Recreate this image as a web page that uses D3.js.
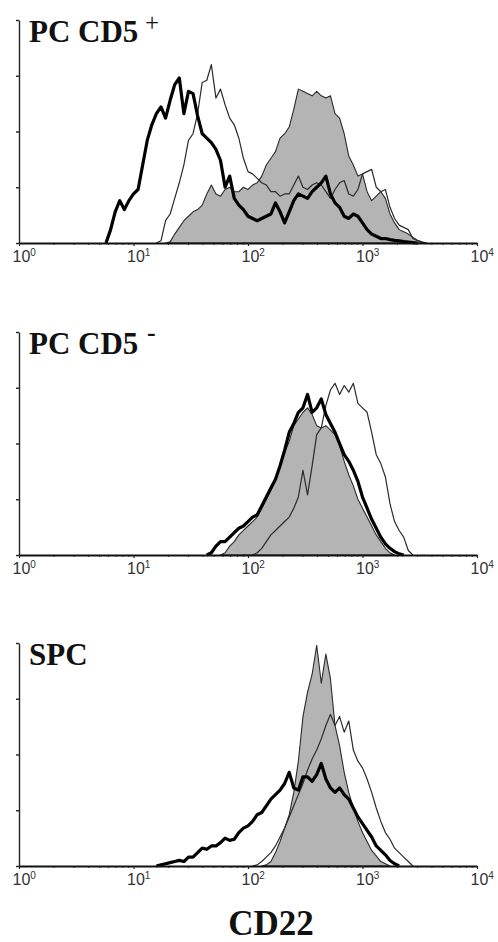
<!DOCTYPE html>
<html>
<head>
<meta charset="utf-8">
<script src="https://cdn.jsdelivr.net/npm/d3@7"></script>
<style>
  body { margin: 0; background: #fff; }
  svg { display: block; }
</style>
</head>
<body>
<svg id="chart" width="498" height="942"></svg>
<script>
// histogram bins are 0.04 decades wide, each series starts at log10 value *Start
const bin = 0.04;

const titles = ["PC CD5", "PC CD5", "SPC"];
const titleSups = ["+", "-", ""];
const xTicks = [1, 10, 100, 1000, 10000];
const yTicks = [0, 25, 50, 75, 100];

// PC CD5+
const p1GrayStart = 1.28;
const p1Gray = [0, 0.5, 4, 7, 10, 12, 14, 15, 17, 22, 26, 22, 21, 24, 25, 23, 23, 25, 24, 26,
  27, 30, 35, 38, 41, 47, 49, 52, 60, 69, 68, 67, 66, 68, 66, 65, 66, 58, 56, 49,
  39, 35, 30, 31, 23, 19, 21, 23, 20, 13, 9, 6, 5, 4, 2.5, 1.2, 0.5, 0];
const p1ThinStart = 1.20;
const p1Thin = [0, 1, 10, 13, 20, 27, 35, 46, 49, 58, 72, 73, 80, 65, 69, 62, 56, 53, 47, 38,
  32, 31, 29, 27, 26, 23, 23, 21, 22, 22, 26, 30, 25, 24, 26, 27, 26, 23, 20, 24,
  27, 28, 22, 21, 24, 31, 32, 33, 25, 23, 24, 16, 11, 8, 7, 6, 2, 1, 0.3, 0];
const p1ThickStart = 0.76;
const p1Thick = [0, 6, 14, 19, 15, 19, 22, 24, 35, 46, 53, 58, 61, 56, 64, 71, 74, 58, 68, 67,
  57, 49, 47, 45, 42, 37, 25, 30, 20, 17, 15, 12, 11, 10, 11, 12, 13, 18, 14, 9,
  14, 19, 22, 21, 20, 23, 25, 27, 30, 22, 18, 16, 12, 11, 13, 12, 9, 6, 4, 3,
  2, 2, 1.5, 1.2, 1, 0.6, 0.4, 0.2, 0];

// PC CD5-
const p2GrayStart = 1.76;
const p2Gray = [0, 1, 4, 6, 9, 11, 13, 15, 17, 21, 25, 29, 34, 40, 46, 51, 58, 61, 64, 66,
  63, 58, 57, 58, 56, 54, 49, 42, 36, 31, 25, 21, 17, 13, 9, 6, 3, 1, 0];
const p2ThinStart = 2.04;
const p2Thin = [0, 1, 3, 6, 9, 11, 13, 15, 17, 21, 26, 38, 27, 40, 54, 57, 67, 74, 77, 72,
  76, 73, 77, 68, 66, 64, 55, 45, 41, 35, 23, 15, 11, 8, 2, 0];
const p2ThickStart = 1.64;
const p2Thick = [0, 1, 4, 6, 6, 8, 10, 12, 13, 15, 17, 18, 22, 26, 30, 34, 40, 47, 55, 59,
  64, 66, 72, 64, 66, 70, 63, 59, 55, 50, 45, 42, 38, 33, 26, 21, 16, 12, 8, 5,
  3, 1.5, 0.5, 0];

// SPC
const p3GrayStart = 2.12;
const p3Gray = [0, 0.5, 2, 6, 11, 17, 23, 33, 47, 67, 78, 86, 99, 82, 95, 84, 63, 54, 42, 33,
  26, 20, 15, 11, 7, 4.5, 2, 1, 0];
const p3ThinStart = 2.04;
const p3Thin = [0, 0.5, 2, 4, 6, 9, 13, 17, 22, 27, 32, 37, 43, 48, 52, 57, 63, 68, 63, 67,
  60, 65, 52, 47, 44, 39, 33, 26, 20, 15, 12, 8, 6, 4, 2, 0];
const p3ThickStart = 1.20;
const p3Thick = [0, 0.5, 1, 1.5, 2, 2.5, 2, 4, 4, 6, 8, 7.5, 9, 9, 10.5, 12.5, 11.5, 12, 15, 17,
  18, 20, 23, 24, 27, 30, 32, 34, 37, 42, 35, 34, 40, 40, 38, 41, 46, 39, 35, 33,
  35, 32, 30, 26, 22, 19, 16, 13, 9, 7, 5, 2.5, 1, 0];

const panels = [
  { gray: [p1GrayStart, p1Gray], thin: [p1ThinStart, p1Thin], thick: [p1ThickStart, p1Thick] },
  { gray: [p2GrayStart, p2Gray], thin: [p2ThinStart, p2Thin], thick: [p2ThickStart, p2Thick] },
  { gray: [p3GrayStart, p3Gray], thin: [p3ThinStart, p3Thin], thick: [p3ThickStart, p3Thick] },
];

const svg = d3.select("#chart");
const margin = { left: 19, right: 21 };
const width = 498;
const panelTops = [20, 332, 643];
const panelHeight = 223;

const x = d3.scaleLog().domain([1, 10000]).range([margin.left, width - margin.right]);
const y = d3.scaleLinear().domain([0, 100]).range([panelHeight, 0]);

const toPoints = ([start, values]) => values.map((v, i) => [10 ** (start + i * bin), v]);

const line = d3.line().x((d) => x(d[0])).y((d) => y(d[1]));
const area = d3.area().x((d) => x(d[0])).y0(y(0)).y1((d) => y(d[1]));

const minorTicks = [];
[1, 10, 100, 1000].forEach((dec) => {
  for (let k = 2; k <= 9; k++) minorTicks.push(dec * k);
});

const addPanel = (i) => {
  const g = svg.append("g").attr("transform", `translate(0,${panelTops[i]})`);
  const p = panels[i];

  g.append("path")
    .datum(toPoints(p.gray))
    .attr("d", area)
    .attr("fill", "#b4b4b4")
    .attr("stroke", "#2a2a2a")
    .attr("stroke-width", 1.1)
    .attr("stroke-linejoin", "round");

  g.append("path")
    .datum(toPoints(p.thin))
    .attr("d", line)
    .attr("fill", "none")
    .attr("stroke", "#2a2a2a")
    .attr("stroke-width", 1.2)
    .attr("stroke-linejoin", "round");

  g.append("path")
    .datum(toPoints(p.thick))
    .attr("d", line)
    .attr("fill", "none")
    .attr("stroke", "#000")
    .attr("stroke-width", 3.2)
    .attr("stroke-linejoin", "round");

  // y axis
  g.append("g")
    .attr("transform", `translate(${margin.left},0)`)
    .call(d3.axisLeft(y).tickValues(yTicks).tickSize(3).tickSizeOuter(0).tickFormat(""))
    .call((a) => a.selectAll("path, line").attr("stroke", "#222").attr("stroke-width", 1.4));

  // minor x ticks
  g.append("g")
    .attr("transform", `translate(0,${panelHeight})`)
    .call(d3.axisBottom(x).tickValues(minorTicks).tickSize(2).tickSizeOuter(0).tickFormat(""))
    .call((a) => a.select(".domain").remove())
    .call((a) => a.selectAll("line").attr("stroke", "#444").attr("stroke-width", 1));

  // major x ticks + labels
  g.append("g")
    .attr("transform", `translate(0,${panelHeight})`)
    .call(d3.axisBottom(x).tickValues(xTicks).tickSize(3).tickSizeOuter(0))
    .call((a) => a.select(".domain").attr("stroke", "#111").attr("stroke-width", 2))
    .call((a) => a.selectAll("line").attr("stroke", "#222").attr("stroke-width", 1.2))
    .call((a) => {
      a.selectAll(".tick text").each(function (d) {
        const t = d3.select(this);
        t.text(null)
          .attr("x", -7)
          .attr("y", 19)
          .attr("dy", null)
          .attr("text-anchor", "start")
          .attr("fill", "#333")
          .attr("font-family", "Liberation Sans, Arial, sans-serif")
          .attr("font-size", 16);
        t.append("tspan").text("10");
        t.append("tspan")
          .attr("font-size", 10)
          .attr("dy", -6)
          .text(Math.round(Math.log10(d)));
      });
    });

  // panel title
  const title = g.append("text")
    .attr("x", 29)
    .attr("y", 22)
    .attr("font-family", "Liberation Serif, Times New Roman, serif")
    .attr("font-weight", "bold")
    .attr("font-size", 31)
    .attr("fill", "#111")
    .text(titles[i]);
  if (titleSups[i]) {
    title.append("tspan")
      .attr("x", titleSups[i] === "+" ? 145 : 147)
      .attr("dy", titleSups[i] === "+" ? -11 : -13)
      .attr("font-size", titleSups[i] === "+" ? 25 : 26)
      .attr("font-weight", titleSups[i] === "+" ? "normal" : "bold")
      .text(titleSups[i]);
  }
};

panels.forEach((p, i) => addPanel(i));

svg.append("text")
  .attr("x", 271)
  .attr("y", 935)
  .attr("text-anchor", "middle")
  .attr("font-family", "Liberation Serif, Times New Roman, serif")
  .attr("font-weight", "bold")
  .attr("font-size", 35)
  .attr("fill", "#111")
  .text("CD22");
</script>
</body>
</html>
